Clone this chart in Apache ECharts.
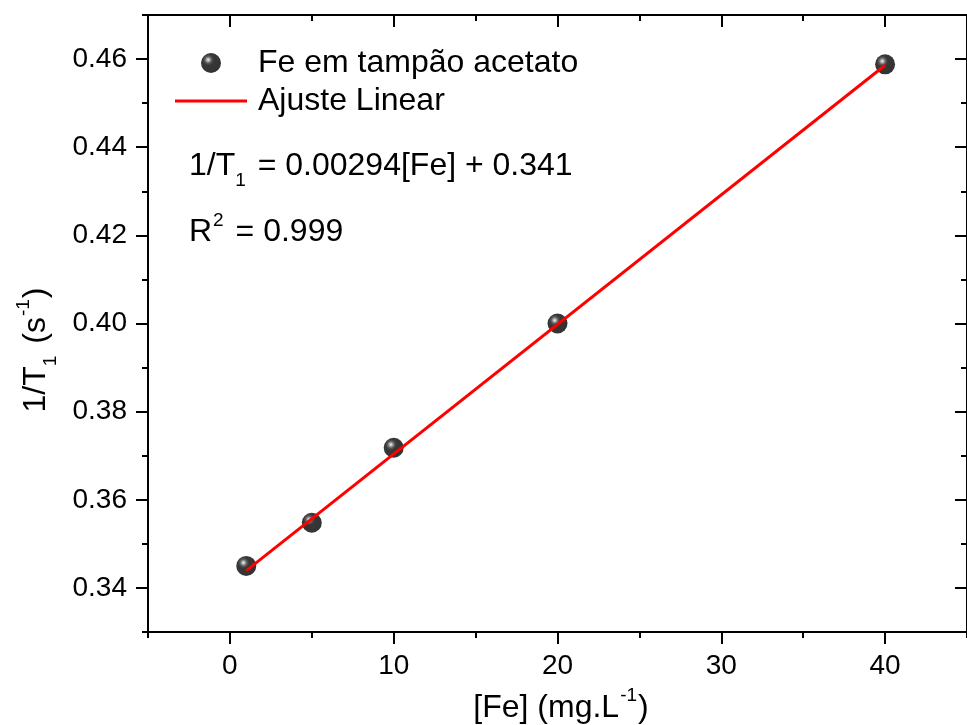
<!DOCTYPE html>
<html>
<head>
<meta charset="utf-8">
<script src="https://cdn.jsdelivr.net/npm/echarts@6/dist/echarts.min.js"></script>
<style>
  html, body { margin: 0; padding: 0; background: #fff; }
  #chart { width: 967px; height: 725px; }
</style>
</head>
<body>
<div id="chart"></div>
<script>
// Measured relaxation rate vs. iron concentration (acetate buffer)
const feConc = [1, 5, 10, 20, 40];
const rate = [0.345, 0.3548, 0.3718, 0.4000, 0.4588];

// Linear fit: 1/T1 = slope*[Fe] + intercept, drawn over the measured range
const slope = 0.00294;
const intercept = 0.341;
const fitRange = [1, 40];

// Axis ticks
const xMajor = [0, 10, 20, 30, 40];
const xMinor = [-5, 5, 15, 25, 35, 45];
const yMajor = [0.34, 0.36, 0.38, 0.40, 0.42, 0.44, 0.46];
const yMinor = [0.33, 0.35, 0.37, 0.39, 0.41, 0.43, 0.45, 0.47];

const seriesNames = ['Fe em tampão acetato', 'Ajuste Linear'];

const FONT = '"Liberation Sans", Arial, sans-serif';
const FS_TICK = 28;
const FS_TEXT = 32;
const FS_SMALL = 19;

const fitData = fitRange.map(x => [x, +(slope * x + intercept).toFixed(5)]);

function xAx(position, values, len, inside, withLabels) {
  return {
    type: 'value', position, min: -5, max: 45,
    splitLine: { show: false },
    axisLine: { show: true, onZero: false, lineStyle: { color: '#000', width: 2 } },
    axisTick: { show: true, inside, length: len, customValues: values,
                lineStyle: { color: '#000', width: 2 } },
    axisLabel: withLabels
      ? { show: true, customValues: values, fontFamily: FONT, fontSize: FS_TICK, color: '#000', margin: 20 }
      : { show: false }
  };
}
function yAx(position, values, len, inside, withLabels) {
  return {
    type: 'value', position, min: 0.33, max: 0.47,
    splitLine: { show: false },
    axisLine: { show: true, onZero: false, lineStyle: { color: '#000', width: 2 } },
    axisTick: { show: true, inside, length: len, customValues: values,
                lineStyle: { color: '#000', width: 2 } },
    axisLabel: withLabels
      ? { show: true, customValues: values, fontFamily: FONT, fontSize: FS_TICK, color: '#000', margin: 21,
          formatter: v => v.toFixed(2) }
      : { show: false }
  };
}

// Shaded sphere marker: small bright highlight up-left on a black ball
const ball = new echarts.graphic.RadialGradient(0.36, 0.34, 0.66, [
  { offset: 0, color: '#f0f0f0' },
  { offset: 0.1, color: '#a8a8a8' },
  { offset: 0.26, color: '#303030' },
  { offset: 0.42, color: '#050505' },
  { offset: 1, color: '#000000' }
]);

const chart = echarts.init(document.getElementById('chart'), null, { renderer: 'canvas' });

chart.setOption({
  animation: false,
  backgroundColor: '#fff',
  grid: { left: 148, right: -6, top: 15, bottom: 93, containLabel: false },
  xAxis: [
    xAx('bottom', xMajor, 12, false, true),
    xAx('bottom', xMinor, 6, false, false),
    xAx('top', xMajor, 12, true, false),
    xAx('top', xMinor, 6, true, false)
  ],
  yAxis: [
    yAx('left', yMajor, 12, false, true),
    yAx('left', yMinor, 6, false, false),
    yAx('right', yMajor, 12, true, false),
    yAx('right', yMinor, 6, true, false)
  ],
  legend: {
    orient: 'vertical',
    left: 175, top: 44,
    padding: 0,
    itemWidth: 72, itemHeight: 20, itemGap: 0,
    symbolKeepAspect: true,
    textStyle: { fontFamily: FONT, fontSize: FS_TEXT, color: '#000', lineHeight: 38,
                 padding: [0, 0, 0, 6] },
    data: [
      { name: seriesNames[0], icon: 'circle' },
      { name: seriesNames[1], icon: 'path://M0,0 H72 V3 H0 Z' }
    ]
  },
  series: [
    {
      name: seriesNames[0],
      type: 'scatter',
      xAxisIndex: 0, yAxisIndex: 0,
      symbol: 'circle',
      symbolSize: 20,
      z: 2,
      itemStyle: { color: ball },
      data: feConc.map((x, i) => [x, rate[i]])
    },
    {
      name: seriesNames[1],
      type: 'line',
      xAxisIndex: 0, yAxisIndex: 0,
      showSymbol: false,
      symbol: 'none',
      z: 3,
      lineStyle: { color: '#ff0000', width: 3 },
      itemStyle: { color: '#ff0000' },
      data: fitData
    }
  ],
  graphic: [
    {
      type: 'text', left: 189, top: 150,
      style: {
        text: '{b|1/T}{s|1}{b| = 0.00294[Fe] + 0.341}',
        rich: {
          b: { fontFamily: FONT, fontSize: FS_TEXT, fill: '#000' },
          s: { fontFamily: FONT, fontSize: FS_SMALL, fill: '#000', padding: [30, 3, 0, 0] }
        }
      }
    },
    {
      type: 'text', left: 189, top: 211,
      style: {
        text: '{b|R}{p|2}{b| = 0.999}',
        rich: {
          b: { fontFamily: FONT, fontSize: FS_TEXT, fill: '#000' },
          p: { fontFamily: FONT, fontSize: FS_SMALL, fill: '#000', padding: [0, 3, 24, 1] }
        }
      }
    },
    {
      type: 'text', x: 561, y: 708,
      style: {
        text: '{b|[Fe] (mg.L}{p|-1}{b|)}',
        align: 'center', verticalAlign: 'middle',
        rich: {
          b: { fontFamily: FONT, fontSize: FS_TEXT, fill: '#000' },
          p: { fontFamily: FONT, fontSize: FS_SMALL, fill: '#000', padding: [0, 1, 24, 1] }
        }
      }
    },
    {
      type: 'text', x: 36, y: 350, rotation: Math.PI / 2,
      style: {
        text: '{b|1/T}{s|1}{b| (s}{p|-1}{b|)}',
        align: 'center', verticalAlign: 'middle',
        rich: {
          b: { fontFamily: FONT, fontSize: FS_TEXT, fill: '#000' },
          s: { fontFamily: FONT, fontSize: FS_SMALL, fill: '#000', padding: [30, 3, 0, 0] },
          p: { fontFamily: FONT, fontSize: FS_SMALL, fill: '#000', padding: [0, 1, 24, 1] }
        }
      }
    }
  ]
});
</script>
</body>
</html>
